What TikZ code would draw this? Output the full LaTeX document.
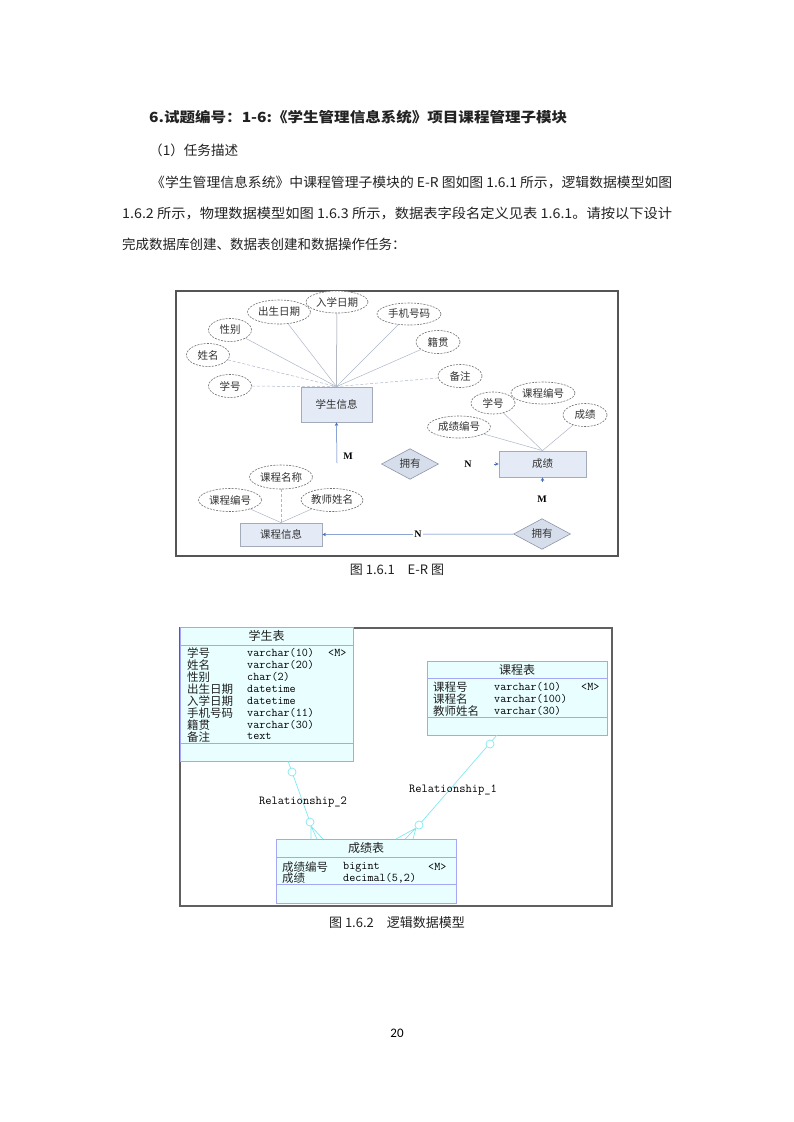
\documentclass[tikz,border=0pt]{standalone}
\usepackage{fontspec}
\usepackage{graphicx}
\setmainfont{Noto Sans CJK SC}
\newfontfamily\serifb{Liberation Serif}
\newfontfamily\pagef{Carlito}
\usetikzlibrary{shapes.geometric,arrows.meta}
\definecolor{entfill}{HTML}{E4EBF6}
\definecolor{entdraw}{HTML}{A3ABBB}
\definecolor{diafill}{HTML}{D6DEEC}
\definecolor{diadraw}{HTML}{8E96A8}
\definecolor{attrdraw}{HTML}{707070}
\definecolor{linkc}{HTML}{AEB6CA}
\definecolor{arrc}{HTML}{4A72C0}
\definecolor{framec}{HTML}{555555}
\definecolor{tabfill}{HTML}{E9FEFF}
\definecolor{tabdraw}{HTML}{A6A6F6}
\definecolor{relc}{HTML}{7FEAF2}
\definecolor{txt}{HTML}{222222}
\definecolor{ertxt}{HTML}{333333}
\tikzset{
  body/.style={anchor=west, inner sep=0pt, font=\fontsize{13.5}{15}\selectfont, text=txt},
  ertext/.style={font=\fontsize{10.5}{12}\selectfont, text=ertxt},
  entity/.style={ertext, draw=entdraw, fill=entfill, line width=0.8pt, inner sep=0pt},
  attr/.style={ertext, ellipse, draw=attrdraw, dash pattern=on 2pt off 1.2pt, line width=0.6pt, fill=white, inner sep=0pt, minimum height=23pt},
  relship/.style={ertext, diamond, draw=diadraw, fill=diafill, line width=0.6pt, inner sep=0pt, minimum width=57pt, minimum height=26pt},
  link/.style={draw=linkc, line width=0.5pt},
  dlink/.style={link, dash pattern=on 3pt off 2pt},
  into/.style={-{Stealth[length=3.5pt,width=3.5pt]}, arrc},
  card/.style={font=\serifb\bfseries\fontsize{10}{12}\selectfont, inner sep=1pt},
  tab/.style={draw=tabdraw, fill=tabfill, line width=0.8pt, inner sep=0pt},
  sepline/.style={draw=tabdraw, line width=0.8pt},
  cell/.style={anchor=west, inner sep=0pt, font=\fontsize{11.5}{12}\selectfont, text=txt},
  mcell/.style={anchor=west, inner sep=0pt, font=\ttfamily\fontsize{11.8}{12}\selectfont, text=black},
  ttl/.style={inner sep=0pt, font=\fontsize{12}{12}\selectfont, text=txt},
  rell/.style={draw=relc, line width=0.7pt},
  rlabel/.style={inner sep=0pt, font=\ttfamily\fontsize{12.2}{12}\selectfont, text=black},
  caption/.style={inner sep=0pt, font=\fontsize{13}{14}\selectfont, text=txt},
}
\begin{document}
\begin{tikzpicture}[x=1pt,y=-1pt]
\useasboundingbox (0,0) rectangle (793,1122);
\fill[white] (0,0) rectangle (793,1122);

% ---------- body text ----------
\node[body] (title) at (149,117) {\resizebox{418pt}{\height}{\fontsize{14}{15}\selectfont\bfseries 6.试题编号：1-6:《学生管理信息系统》项目课程管理子模块}};
\node[body] (sub) at (149,150) {\resizebox{89pt}{\height}{（1）任务描述}};
\node[body] (p1) at (151,182) {\resizebox{521pt}{\height}{《学生管理信息系统》中课程管理子模块的 E-R 图如图 1.6.1 所示，逻辑数据模型如图}};
\node[body] (p2) at (122,213) {\resizebox{550pt}{\height}{1.6.2 所示，物理数据模型如图 1.6.3 所示，数据表字段名定义见表 1.6.1。请按以下设计}};
\node[body] (p3) at (122,244) {完成数据库创建、数据表创建和数据操作任务：};

% ---------- E-R diagram ----------
\draw[framec, line width=1.8pt] (176,291) rectangle (618,556);

\node[entity, minimum width=71pt, minimum height=35pt] (xs) at (336.5,404.5) {学生信息};
\node[entity, minimum width=87pt, minimum height=26pt] (cj) at (542.5,464) {成绩};
\node[entity, minimum width=82pt, minimum height=23pt] (kc) at (281,534.5) {课程信息};

\node[attr, minimum width=62pt, minimum height=22pt] (rxrq) at (337,302) {入学日期};
\node[attr, minimum width=63pt, minimum height=24pt] (csrq) at (279,312) {出生日期};
\node[attr, minimum width=43pt] (xb) at (230,330) {性别};
\node[attr, minimum width=43pt] (xm) at (208,355) {姓名};
\node[attr, minimum width=43pt] (xh) at (230,386) {学号};
\node[attr, minimum width=64pt, minimum height=22pt] (sjhm) at (409,314) {手机号码};
\node[attr, minimum width=44pt] (jg) at (438,342) {籍贯};
\node[attr, minimum width=44pt] (bz) at (460,376) {备注};

\draw[link, draw=linkc!80!black] (rxrq) -- (xs.north);
\draw[link] (csrq) -- (xs.north);
\draw[link] (xb) -- (xs.north);
\draw[dlink] (xm) -- (xs.north);
\draw[dlink] (xh) -- (xs.north);
\draw[link] (sjhm) -- (xs.north);
\draw[link] (jg) -- (xs.north);
\draw[dlink] (bz) -- (xs.north);

\node[attr, minimum width=44pt, minimum height=22pt] (cxh) at (493,403) {学号};
\node[attr, minimum width=64pt, minimum height=22pt] (ckbh) at (543,393) {课程编号};
\node[attr, minimum width=44pt] (ccj) at (585,415) {成绩};
\node[attr, minimum width=63pt, minimum height=22pt] (cjbh) at (459,427) {成绩编号};

\draw[link] (cjbh) -- (cj.north);
\draw[link] (cxh) -- (cj.north);
\draw[link] (ccj) -- (cj.north);

\node[attr, minimum width=63pt, minimum height=24pt] (kcmc) at (281,477) {课程名称};
\node[attr, minimum width=63pt] (kcbh) at (230,500) {课程编号};
\node[attr, minimum width=62pt] (jsxm) at (332,500) {教师姓名};

\draw[dlink] (kcmc) -- (kc.north);
\draw[link] (kcbh) -- (kc.north);
\draw[link] (jsxm) -- (kc.north);

\node[relship] (d1) at (410,464) {拥有};
\node[relship] (d2) at (542,534) {拥有};

\coordinate (xsdown) at (337,463);
\draw[link, into] (xsdown) -- (xs.south);
\coordinate (cjin) at (494,464);
\draw[link, into] (cjin) -- (cj.west);
\coordinate (cjup) at (542.5,482);
\draw[link, into] (cjup) -- (cj.south);
\draw[link, into] (d2.west) -- (kc.east);

\node[card] (m1) at (348,456) {M};
\node[card] (n1) at (468,464) {N};
\node[card] (m2) at (542,499) {M};
\node[card, fill=white] (n2) at (418,534) {N};

\node[caption] (cap1) at (397,570) {图 1.6.1\quad E-R 图};

% ---------- logical model ----------
\draw[draw=gray!75!black, line width=1.4pt] (180,628) rectangle (612,906);

% 学生表
\node[tab, minimum width=173pt, minimum height=134pt] (xsb) at (266.5,694) {};
\draw[sepline] (180,645) -- (353,645);
\draw[sepline] (180,743) -- (353,743);
\node[ttl] (xsbt) at (266.5,636) {学生表};
\foreach \n/\t [count=\i from 0] in {学号/varchar(10), 姓名/varchar(20), 性别/char(2), 出生日期/datetime, 入学日期/datetime, 手机号码/varchar(11), 籍贯/varchar(30), 备注/text}{
  \node[cell] (xsn\i) at (187,653+11.95*\i) {\n};
  \node[mcell] (xst\i) at (247,653+11.95*\i) {\t};
}
\node[mcell] (xspk) at (328,653) {<M>};

% 课程表
\node[tab, minimum width=180pt, minimum height=74pt] (kcb) at (517,698) {};
\draw[sepline] (427,678) -- (607,678);
\draw[sepline] (427,717) -- (607,717);
\node[ttl] (kcbt) at (517,669.5) {课程表};
\foreach \n/\t [count=\i from 0] in {课程号/varchar(10), 课程名/varchar(100), 教师姓名/varchar(30)}{
  \node[cell] (kcn\i) at (433,687+12*\i) {\n};
  \node[mcell] (kct\i) at (494,687+12*\i) {\t};
}
\node[mcell] (kcpk) at (581,687) {<M>};

% 成绩表
\node[tab, minimum width=180pt, minimum height=64pt] (cjb) at (366,871) {};
\draw[sepline] (276,857) -- (456,857);
\draw[sepline] (276,884) -- (456,884);
\node[ttl] (cjbt) at (366,848) {成绩表};
\node[cell] (cjn0) at (282,867) {成绩编号};
\node[mcell] (cjt0) at (343,867) {bigint};
\node[cell] (cjn1) at (282,878.5) {成绩};
\node[mcell] (cjt1) at (343,878.5) {decimal(5,2)};
\node[mcell] (cjpk) at (428,867) {<M>};

% Relationship_2
\coordinate (r2a) at (288,761);
\coordinate (r2b) at (310,822);
\draw[rell] (r2a) -- (r2b);
\draw[rell] (311,826) -- (311,839) (311,826) -- (317,839) (311,826) -- (323,839);
\draw[rell, fill=white] (292,772) circle[radius=4pt];
\draw[rell, fill=white] (310,822) circle[radius=4pt];
\node[rlabel] (r2l) at (303,802) {Relationship\_2};

% Relationship_1
\coordinate (r1a) at (497,735);
\coordinate (r1b) at (419,825);
\draw[rell] (r1a) -- (r1b);
\draw[rell] (416,828) -- (396,839) (416,828) -- (405,839) (416,828) -- (413,839);
\draw[rell, fill=white] (490,744) circle[radius=4pt];
\draw[rell, fill=white] (419,825) circle[radius=4pt];
\node[rlabel] (r1l) at (453,790) {Relationship\_1};

\node[caption] (cap2) at (397,923) {图 1.6.2\quad 逻辑数据模型};

\node[inner sep=0pt, font=\pagef\fontsize{13}{13}\selectfont] (pg) at (397,1033) {20};
\end{tikzpicture}
\end{document}
